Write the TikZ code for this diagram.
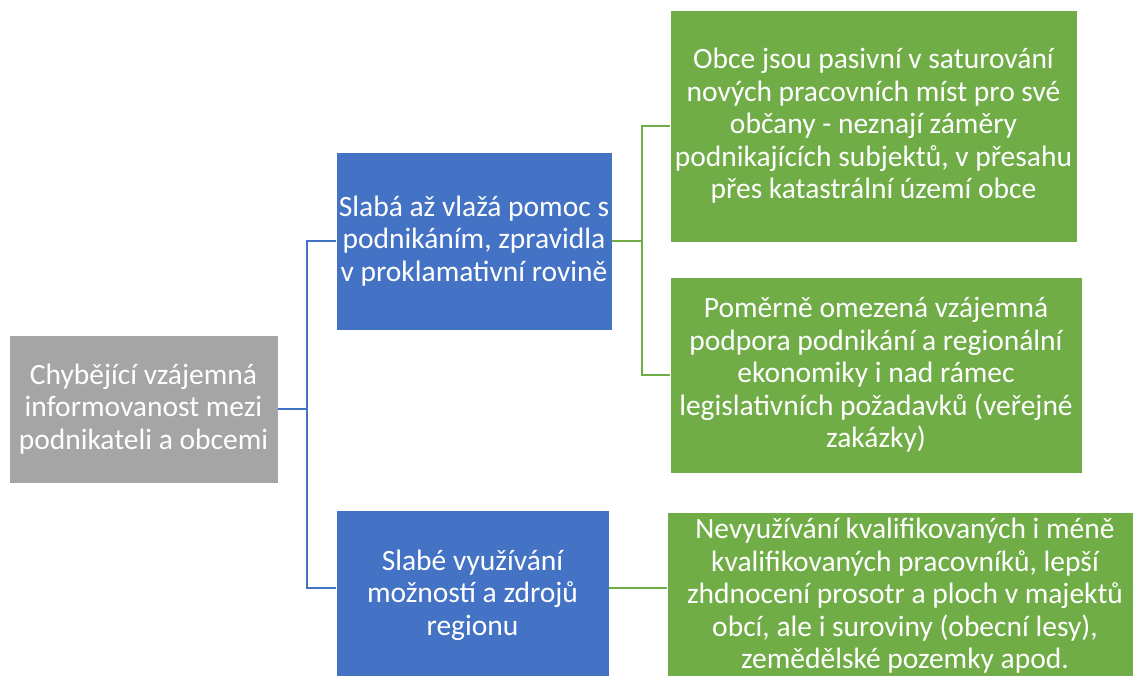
\documentclass[tikz,border=0pt]{standalone}
\usepackage{fontspec}
\setmainfont{Carlito}
\definecolor{cblue}{HTML}{4472C4}
\definecolor{cgreen}{HTML}{70AD47}
\definecolor{cgray}{HTML}{A5A5A5}
\tikzset{
  boxbase/.style={rectangle, inner sep=0pt, align=center, text=white,
    font=\fontsize{29.5}{32.5}\selectfont, draw=white, line width=0.6pt},
  graybox/.style={boxbase, fill=cgray},
  bluebox/.style={boxbase, fill=cblue},
  greenbox/.style={boxbase, fill=cgreen},
  blueline/.style={draw=cblue, line width=2.2pt},
  greenline/.style={draw=cgreen, line width=2.2pt}
}
\begin{document}
\begin{tikzpicture}[x=1pt,y=1pt]
\useasboundingbox (0,0) rectangle (1133,-675);
\clip (0,0) rectangle (1133,-675);
\fill[white] (0,0) rectangle (1133,-675);

\node[graybox, minimum width=269pt, minimum height=148pt] (gray) at (143.5,-409)
  {Chybějící vzájemná\\informovanost mezi\\podnikateli a obcemi};

\node[bluebox, minimum width=276pt, minimum height=178pt] (blue1) at (474,-241)
  {Slabá až vlažá pomoc s\\podnikáním, zpravidla\\v proklamativní rovině};

\node[bluebox, minimum width=273pt, minimum height=170pt] (blue2) at (472.5,-595)
  {Slabé využívání\\možností a zdrojů\\regionu};

\node[greenbox, minimum width=407pt, minimum height=232pt] (g1) at (873.5,-126)
  {Obce jsou pasivní v saturování\\nových pracovních míst pro své\\občany - neznají záměry\\podnikajících subjektů, v přesahu\\přes katastrální území obce};

\node[greenbox, minimum width=412pt, minimum height=196pt] (g2) at (876,-375)
  {Poměrně omezená vzájemná\\podpora podnikání a regionální\\ekonomiky i nad rámec\\legislativních požadavků (veřejné\\zakázky)};

\node[greenbox, minimum width=476pt, minimum height=168pt] (g3) at (905,-596)
  {Nevyužívání kvalifikovaných i méně\\kvalifikovaných pracovníků, lepší\\zhdnocení prosotr a ploch v majektů\\obcí, ale i suroviny (obecní lesy),\\zemědělské pozemky apod.};

\coordinate (bb) at (307,-409);
\coordinate (gb) at (642,-241);

\draw[blueline] (gray.east) -- (bb);
\draw[blueline] (blue1.west) -| (bb) |- ([yshift=7pt]blue2.west);

\draw[greenline] (blue1.east) -- (gb);
\draw[greenline] (g1.west) -| (gb) |- (g2.west);
\draw[greenline] ([yshift=7pt]blue2.east) -- ([yshift=8pt]g3.west);
\end{tikzpicture}
\end{document}
